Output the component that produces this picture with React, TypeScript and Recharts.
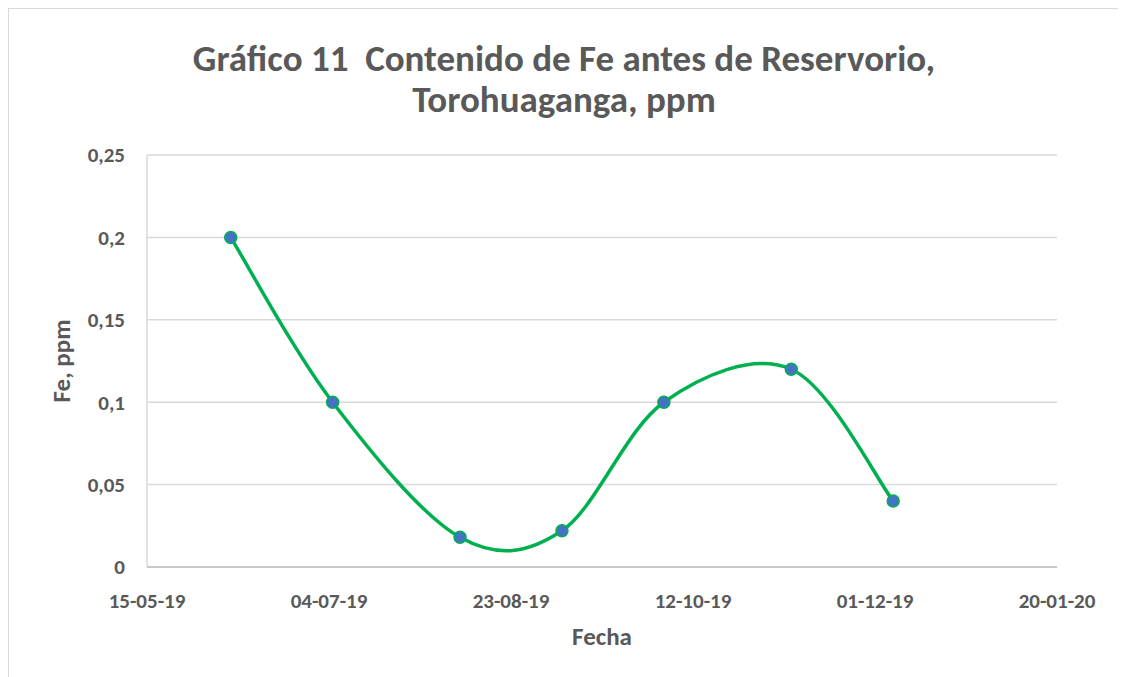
import { LineChart, Line, XAxis, YAxis, CartesianGrid } from 'recharts';

const sampleDates = ['2019-06-07', '2019-07-05', '2019-08-09', '2019-09-06', '2019-10-04', '2019-11-08', '2019-12-06'];
const feValues = [0.2, 0.1, 0.018, 0.022, 0.1, 0.12, 0.04];
const xTickDates = ['2019-05-15', '2019-07-04', '2019-08-23', '2019-10-12', '2019-12-01', '2020-01-20'];
const yTicks = [0, 0.05, 0.1, 0.15, 0.2, 0.25];

const DAY = 86400000;
const toDay = (s: string) => Date.parse(s + 'T00:00:00Z') / DAY;

const data = sampleDates.map((d, i) => ({ day: toDay(d), fe: feValues[i] }));
const xTicks = xTickDates.map(toDay);

const fmtDate = (v: number) => {
  const d = new Date(v * DAY);
  const dd = String(d.getUTCDate()).padStart(2, '0');
  const mm = String(d.getUTCMonth() + 1).padStart(2, '0');
  const yy = String(d.getUTCFullYear()).slice(2);
  return `${dd}-${mm}-${yy}`;
};
const fmtNum = (v: number) => String(v).replace('.', ',');

// excel-like smoothing (catmull-rom, tension 1/6)
function excelSmooth(ctx: any) {
  let pts: [number, number][] = [];
  return {
    areaStart() {},
    areaEnd() {},
    lineStart() { pts = []; },
    point(x: number, y: number) { pts.push([+x, +y]); },
    lineEnd() {
      if (!pts.length) return;
      ctx.moveTo(pts[0][0], pts[0][1]);
      for (let i = 0; i < pts.length - 1; i++) {
        const p0 = pts[i - 1] || pts[i];
        const p1 = pts[i];
        const p2 = pts[i + 1];
        const p3 = pts[i + 2] || p2;
        ctx.bezierCurveTo(
          p1[0] + (p2[0] - p0[0]) / 6, p1[1] + (p2[1] - p0[1]) / 6,
          p2[0] - (p3[0] - p1[0]) / 6, p2[1] - (p3[1] - p1[1]) / 6,
          p2[0], p2[1]
        );
      }
    },
  };
}

const font = 'Carlito, Calibri, Lato, sans-serif';
const grey = '#595959';

export default function App() {
  return (
    <div style={{ position: 'relative', width: 1110, height: 680, border: '1px solid #d9d9d9', fontFamily: font, background: '#fff' }}>
      <div style={{ position: 'absolute', top: 29, left: 0, width: 1110, textAlign: 'center', color: grey, fontWeight: 700, fontSize: 37, lineHeight: '41px' }}>
        Gráfico 11&nbsp; Contenido de Fe antes de Reservorio,
        <br />
        Torohuaganga, ppm
      </div>
      <LineChart width={1110} height={660} data={data} margin={{ top: 146, right: 62, left: 0, bottom: 12 }}>
        <CartesianGrid vertical={false} stroke="#d9d9d9" strokeWidth={1.5} />
        <XAxis
          dataKey="day"
          type="number"
          domain={[xTicks[0], xTicks[xTicks.length - 1]]}
          ticks={xTicks}
          tickFormatter={fmtDate}
          height={90}
          tickSize={0}
          tickMargin={26}
          stroke="#bfbfbf"
          strokeWidth={1.5}
          tick={{ fill: grey, fontSize: 21, fontWeight: 700, fontFamily: font }}
          label={{ value: 'Fecha', position: 'insideBottom', offset: 12, fill: grey, fontSize: 25, fontWeight: 700, fontFamily: font }}
        />
        <YAxis
          type="number"
          domain={[0, 0.25]}
          ticks={yTicks}
          tickFormatter={fmtNum}
          width={138}
          tickSize={0}
          tickMargin={22}
          stroke="#d9d9d9"
          strokeWidth={1.5}
          tick={{ fill: grey, fontSize: 21, fontWeight: 700, fontFamily: font }}
          label={{ value: 'Fe, ppm', angle: -90, position: 'insideLeft', offset: 52, fill: grey, fontSize: 25, fontWeight: 700, fontFamily: font, style: { textAnchor: 'middle' } }}
        />
        <Line
          dataKey="fe"
          type={excelSmooth as any}
          stroke="#00b050"
          strokeWidth={3.5}
          dot={{ r: 6, fill: '#4472c4', stroke: '#00b050', strokeWidth: 1.5 }}
          isAnimationActive={false}
        />
      </LineChart>
    </div>
  );
}
